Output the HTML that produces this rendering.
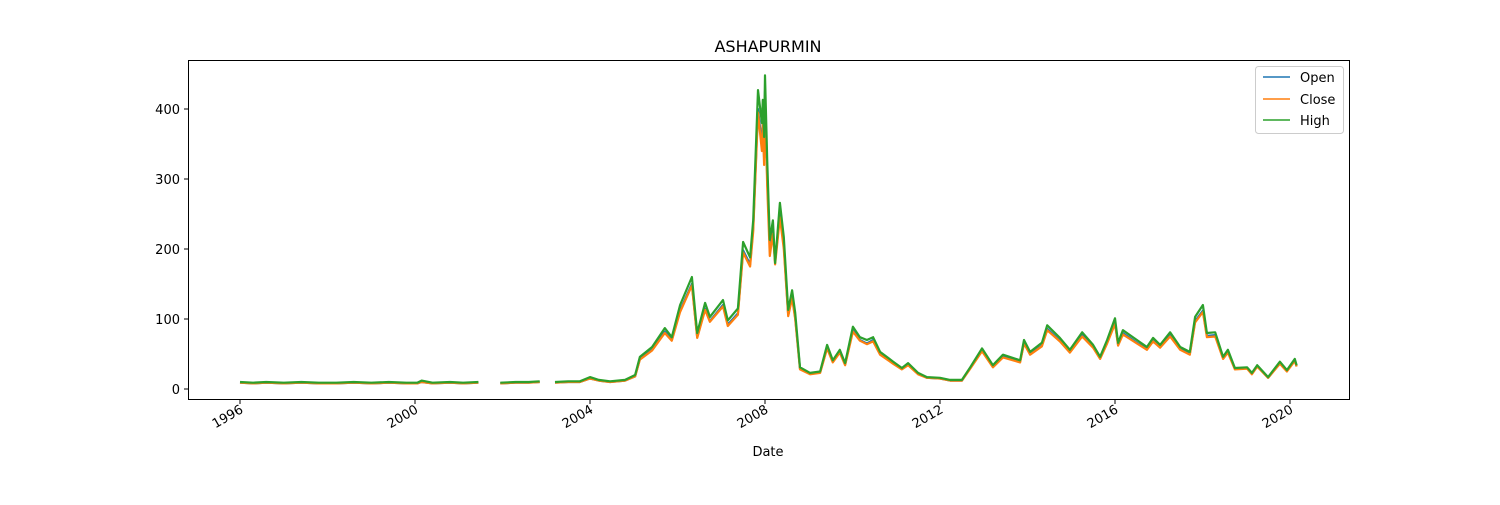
<!DOCTYPE html>
<html><head><meta charset="utf-8"><style>
body{margin:0;background:#fff;font-family:"Liberation Sans","DejaVu Sans",sans-serif}
</style></head><body>
<svg id="chart" width="1500" height="500" xmlns="http://www.w3.org/2000/svg" font-family="DejaVu Sans, Liberation Sans, sans-serif">
<rect width="1500" height="500" fill="#fff"/>
<text x="768" y="52" font-size="16" text-anchor="middle">ASHAPURMIN</text>
<g id="plot"></g>
<g id="axes"></g>
<rect x="188.5" y="60.5" width="1161" height="339" fill="none" stroke="#000" stroke-width="1"/>
<text x="768" y="456" font-size="13" text-anchor="middle">Date</text>
<g>
<rect x="1255.5" y="66.5" width="88" height="67" rx="3" fill="#fff" fill-opacity="0.8" stroke="#ccc"/>
<g><line x1="1263" y1="77" x2="1290" y2="77" stroke="#1f77b4" stroke-width="1.5"/><text x="1300" y="82" font-size="13">Open</text></g>
<g><line x1="1263" y1="99" x2="1290" y2="99" stroke="#ff7f0e" stroke-width="1.5"/><text x="1300" y="104" font-size="13">Close</text></g>
<g><line x1="1263" y1="120" x2="1290" y2="120" stroke="#2ca02c" stroke-width="1.5"/><text x="1300" y="125" font-size="13">High</text></g>
</g>
</svg>
<script>
const dates=[1996.0,1996.3,1996.6,1997.0,1997.4,1997.8,1998.2,1998.6,1999.0,1999.4,1999.8,2000.05,2000.15,2000.4,2000.8,2001.1,2001.45,2001.6,1999.99,2001.95,2002.3,2002.6,2002.85,2002.9,2003.2,2003.5,2003.77,2004.0,2004.2,2004.46,2004.8,2005.03,2005.14,2005.42,2005.71,2005.87,2006.06,2006.33,2006.45,2006.63,2006.74,2007.04,2007.15,2007.38,2007.5,2007.66,2007.73,2007.84,2007.93,2007.95,2007.98,2008.0,2008.05,2008.11,2008.18,2008.23,2008.34,2008.43,2008.53,2008.62,2008.69,2008.8,2009.03,2009.26,2009.42,2009.55,2009.71,2009.83,2010.01,2010.17,2010.33,2010.47,2010.63,2010.93,2011.13,2011.27,2011.5,2011.7,2012.0,2012.23,2012.5,2012.69,2012.96,2013.21,2013.44,2013.83,2013.92,2014.06,2014.33,2014.45,2014.74,2014.97,2015.25,2015.5,2015.66,2015.82,2016.0,2016.07,2016.18,2016.5,2016.73,2016.87,2017.03,2017.26,2017.49,2017.71,2017.83,2018.01,2018.1,2018.29,2018.47,2018.58,2018.74,2019.02,2019.13,2019.25,2019.5,2019.77,2019.93,2020.11,2020.15];
const high=[10,9,10,9,10,9,9,10,9,10,9,9,12,9,10,9,10,null,null,9,10,10,11,null,10,11,11,17,13,11,13,20,46,60,87,74,120,160,80,123,103,127,98,115,210,188,241,427,380,413,360,448,327,213,241,180,266,217,113,141,109,31,23,25,63,41,56,37,89,74,70,74,53,39,30,37,23,17,16,13,13,31,58,34,49,41,70,53,66,91,73,56,81,63,46,70,101,66,84,70,60,73,63,81,60,53,103,120,80,81,46,56,30,31,23,34,17,39,27,43,34];
const close=[9,8,9,8,9,8,8,9,8,9,8,8,10,8,9,8,9,null,null,8,9,9,10,null,9,10,10,15,12,10,12,18,42,55,80,69,110,148,73,113,96,118,90,106,195,175,225,395,340,380,320,420,290,190,222,178,245,200,104,130,100,28,21,23,58,38,52,34,82,69,64,68,49,36,28,34,21,16,15,12,12,29,54,31,45,38,65,49,61,84,68,52,75,59,43,65,93,62,78,65,56,68,59,75,56,49,95,110,74,75,43,52,28,29,21,32,16,36,25,40,32];
const open=[9,8,9,8,9,8,8,9,8,9,8,8,10,8,9,8,9,null,null,8,9,9,10,null,9,10,10,15,12,10,12,18,43,56,82,70,112,150,74,115,97,120,92,108,198,178,230,400,350,385,330,425,300,210,226,182,250,205,106,132,102,29,22,24,59,39,53,35,84,70,65,70,50,37,29,35,22,16,15,12,12,30,55,32,46,39,66,50,62,86,69,53,77,60,44,66,95,63,80,66,57,69,60,77,57,50,97,112,76,77,44,53,29,30,22,33,16,37,26,41,33];
const yTicks=[0,100,200,300,400];
const xTicks=[1996,2000,2004,2008,2012,2016,2020];
const NS="http://www.w3.org/2000/svg";
function xs(d){return 240+(d-1996)*43.75;}
function ys(v){return 389-v*0.7;}
const plot=document.getElementById('plot'),axes=document.getElementById('axes');
function pathFor(vals){let d="",pen=false;for(let i=0;i<dates.length;i++){const v=vals[i];if(v===null){pen=false;continue;}d+=(pen?"L":"M")+xs(dates[i]).toFixed(1)+","+ys(v).toFixed(1);pen=true;}return d;}
[[open,'#1f77b4','series-open'],[close,'#ff7f0e','series-close'],[high,'#2ca02c','series-high']].forEach(s=>{
const p=document.createElementNS(NS,'path');p.setAttribute('d',pathFor(s[0]));p.setAttribute('fill','none');p.setAttribute('stroke',s[1]);p.setAttribute('stroke-width','2.2');p.setAttribute('stroke-linejoin','round');


plot.appendChild(p);});
yTicks.forEach(t=>{const y=ys(t);
const l=document.createElementNS(NS,'line');l.setAttribute('x1',184);l.setAttribute('x2',188);l.setAttribute('y1',y);l.setAttribute('y2',y);l.setAttribute('stroke','#000');


axes.appendChild(l);
const tx=document.createElementNS(NS,'text');tx.setAttribute('x',180);tx.setAttribute('y',y+5);tx.setAttribute('font-size','13');tx.setAttribute('text-anchor','end');tx.textContent=t;


axes.appendChild(tx);});
xTicks.forEach(t=>{const x=xs(t);
const l=document.createElementNS(NS,'line');l.setAttribute('x1',x);l.setAttribute('x2',x);l.setAttribute('y1',400);l.setAttribute('y2',404);l.setAttribute('stroke','#000');


axes.appendChild(l);
const tx=document.createElementNS(NS,'text');tx.setAttribute('font-size','13');tx.setAttribute('text-anchor','end');tx.setAttribute('transform','translate('+(x+4)+',412) rotate(-30)');tx.textContent=t;


axes.appendChild(tx);});
</script>
</body></html>
